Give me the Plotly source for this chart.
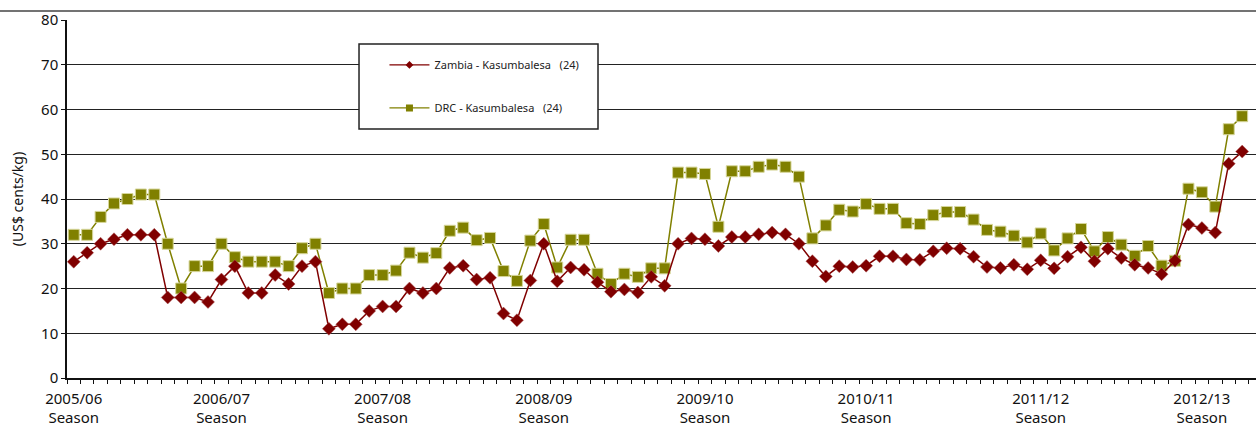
import plotly.graph_objects as go

# ---- data ----
zambia = [26, 28, 30, 31, 32, 32, 32, 18, 18, 18, 17, 22, 25, 19, 19, 23, 21, 25, 26, 11,
          12, 12, 15, 16, 16, 20, 19, 20, 24.6, 25.1, 22, 22.4, 14.4, 12.9, 21.8, 30, 21.6, 24.7, 24.2, 21.4,
          19.3, 19.8, 19.1, 22.6, 20.6, 30, 31.2, 31, 29.5, 31.5, 31.5, 32.1, 32.5, 32.1, 30, 26.1, 22.7, 25, 24.8, 25.1,
          27.2, 27.2, 26.5, 26.4, 28.3, 29, 28.9, 27.1, 24.8, 24.6, 25.3, 24.3, 26.3, 24.5, 27.1, 29.2, 26.1, 28.9, 26.8, 25.3,
          24.6, 23.2, 26.2, 34.3, 33.5, 32.5, 47.9, 50.6]
drc = [32, 32, 36, 39, 40, 41, 41, 30, 20, 25, 25, 30, 27, 26, 26, 26, 25, 29, 30, 19,
       20, 20, 23, 23, 24, 28, 26.9, 27.9, 32.9, 33.6, 30.8, 31.3, 23.9, 21.7, 30.7, 34.4, 24.7, 30.9, 30.9, 23.3,
       21, 23.3, 22.6, 24.5, 24.5, 45.9, 45.9, 45.6, 33.8, 46.2, 46.2, 47.2, 47.7, 47.2, 45, 31.2, 34.1, 37.6, 37.2, 38.9,
       37.8, 37.8, 34.6, 34.4, 36.4, 37.1, 37.1, 35.4, 33.1, 32.7, 31.8, 30.3, 32.3, 28.5, 31.2, 33.3, 28.3, 31.5, 29.8, 27.3,
       29.5, 25.1, 26.2, 42.3, 41.5, 38.3, 55.6, 58.5]
periods = list(range(len(zambia)))
season_pos = [0, 11, 23, 35, 47, 59, 72, 84]
season_labels = ["2005/06<br>Season", "2006/07<br>Season", "2007/08<br>Season", "2008/09<br>Season",
                 "2009/10<br>Season", "2010/11<br>Season", "2011/12<br>Season", "2012/13<br>Season"]
y_ticks = [0, 10, 20, 30, 40, 50, 60, 70, 80]
names = ["Zambia - Kasumbalesa\u00a0\u00a0 (24)", "DRC - Kasumbalesa\u00a0\u00a0 (24)"]

RED = "#800000"
OLIVE = "#808000"
FONT = "Noto Sans"

fig = go.Figure()
fig.add_trace(go.Scatter(x=periods, y=drc, mode="lines+markers", showlegend=False,
                         line=dict(color=OLIVE, width=1.5),
                         marker=dict(symbol="square", size=11, color=OLIVE,
                                     line=dict(color="#d6d69a", width=1))))
fig.add_trace(go.Scatter(x=periods, y=zambia, mode="lines+markers", showlegend=False,
                         line=dict(color=RED, width=1.5),
                         marker=dict(symbol="diamond", size=10, color=RED,
                                     line=dict(color="#b06060", width=0.5))))
# legend entries
fig.add_trace(go.Scatter(x=[None], y=[None], mode="lines+markers", name=names[0], legendgroup="a",
                         line=dict(color=RED, width=1.2), marker=dict(symbol="diamond", size=6, color=RED)))
fig.add_trace(go.Scatter(x=[None], y=[None], mode="lines+markers", name=names[1], legendgroup="b",
                         line=dict(color=OLIVE, width=1.2), marker=dict(symbol="square", size=7, color=OLIVE)))

fig.update_layout(
    width=1256, height=423,
    margin=dict(l=67, r=0, t=20, b=45.3, autoexpand=False),
    paper_bgcolor="white", plot_bgcolor="white",
    font=dict(family=FONT, color="#111"),
    legend=dict(x=0.267, xanchor="left", y=0.915, yanchor="top",
                bgcolor="rgba(0,0,0,0)", borderwidth=0, tracegroupgap=24,
                font=dict(size=11, color="#222", family=FONT), itemwidth=40),
    shapes=[
        dict(type="rect", xref="paper", yref="paper", x0=0.2456, x1=0.4466, y0=0.6953, y1=0.9329,
             fillcolor="white", line=dict(color="#222", width=1.5), layer="above"),
        dict(type="line", xref="paper", yref="paper", x0=-0.0564, x1=1, y0=1.0252, y1=1.0252,
             line=dict(color="#444", width=1.5)),
    ],
)
fig.update_xaxes(range=[-0.5, 88.03], tickmode="array", tickvals=season_pos, ticktext=season_labels,
                 ticks="", showgrid=False, zeroline=False, showline=True, linecolor="#111", linewidth=1.5,
                 automargin=False, ticklabelstandoff=6,
                 tickfont=dict(size=15, family=FONT, color="#111"),
                 minor=dict(ticks="outside", tickmode="linear", tick0=0.5, dtick=1, ticklen=4,
                            tickcolor="#111", tickwidth=1, showgrid=False))
fig.update_yaxes(range=[0, 80], tickmode="array", tickvals=y_ticks, ticks="outside", ticklen=4,
                 tickcolor="#111", showgrid=True, gridcolor="#222", gridwidth=1.2, zeroline=False,
                 showline=True, linecolor="#111", linewidth=1.5, automargin=False,
                 tickfont=dict(size=15, family=FONT, color="#111"),
                 title=dict(text="(US$ cents/kg)", font=dict(size=14, family=FONT, color="#111"), standoff=14))

fig.write_html("out.html", config={"displayModeBar": False},
               post_script="document.body.style.margin='0';document.body.style.overflow='hidden';")
